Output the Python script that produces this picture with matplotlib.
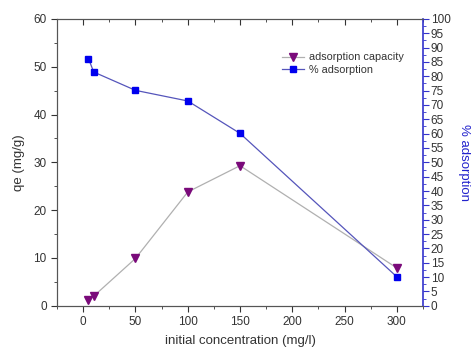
import matplotlib
matplotlib.use("Agg")
import matplotlib.pyplot as plt
from matplotlib.ticker import MultipleLocator

plt.rcParams["font.family"] = ["Liberation Sans", "DejaVu Sans"]

# data
conc = [5, 10, 50, 100, 150, 300]
qe = [1.3, 2.0, 9.9, 23.8, 29.3, 7.9]
pct_ads = [86.2, 81.5, 75.1, 71.4, 60.1, 10.1]

text_col = "#333333"
spine_col = "#555555"
blue = "#3333cc"

fig = plt.figure(figsize=(4.72, 3.51), dpi=100)
ax = fig.add_axes([0.121, 0.129, 0.775, 0.817])
ax2 = ax.twinx()

l1, = ax.plot(conc, qe, color="#b0b0b0", lw=0.9, marker="v", ms=5.5,
              mfc="#7a0a7a", mec="#7a0a7a", label="adsorption capacity")
l2, = ax2.plot(conc, pct_ads, color="#5555bb", lw=0.9, marker="s", ms=5,
               mfc="#0000ee", mec="#0000ee", label="% adsorption")

ax.set_xlim(-25, 325)
ax.set_ylim(0, 60)
ax2.set_ylim(0, 100)

ax.xaxis.set_major_locator(MultipleLocator(50))
ax.xaxis.set_minor_locator(MultipleLocator(25))
ax.yaxis.set_major_locator(MultipleLocator(10))
ax.yaxis.set_minor_locator(MultipleLocator(5))
ax2.yaxis.set_major_locator(MultipleLocator(5))
ax2.yaxis.set_minor_locator(MultipleLocator(2.5))

ax.tick_params(axis="x", which="both", direction="out", top=True, colors=text_col,
               labelsize=8.5, length=4)
ax.tick_params(axis="x", which="minor", length=2.5)
ax.tick_params(axis="y", which="both", direction="out", colors=text_col,
               labelsize=8.5, length=4)
ax.tick_params(axis="y", which="minor", length=2.5)
ax2.tick_params(axis="y", which="both", direction="out", colors=blue,
                labelsize=8.5, length=4, labelcolor=text_col, pad=1.5)
ax2.tick_params(axis="y", which="minor", length=2.5)

# top axis ticks point inward
for t in ax.xaxis.get_major_ticks() + ax.xaxis.get_minor_ticks():
    t.tick2line.set_marker(3)

for s in ["left", "bottom", "top"]:
    ax.spines[s].set_color(spine_col)
    ax2.spines[s].set_color(spine_col)
ax2.spines["right"].set_color(blue)
ax2.spines["right"].set_linewidth(1.2)
ax.spines["right"].set_visible(False)

ax.set_xlabel("initial concentration (mg/l)", fontsize=9.5, color=text_col, labelpad=5)
ax.set_ylabel("qe (mg/g)", fontsize=9.5, color=text_col, labelpad=6)
ax2.set_ylabel("% adsorption", fontsize=9.5, color="#2222cc", rotation=270, labelpad=14)

ax2.legend(handles=[l1, l2], loc="upper left", bbox_to_anchor=(0.595, 0.91),
           frameon=False, fontsize=7.8, handlelength=2.0, handletextpad=0.5,
           borderpad=0.2, labelspacing=0.25, labelcolor=text_col)

fig.savefig("out.png", dpi=100)
